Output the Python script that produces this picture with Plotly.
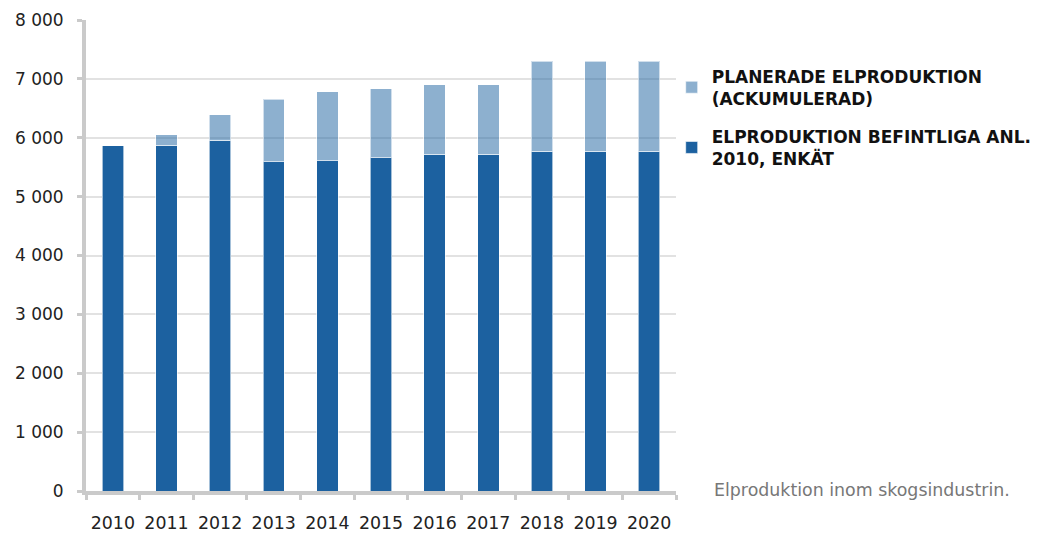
import plotly.graph_objects as go

years = ["2010", "2011", "2012", "2013", "2014", "2015", "2016", "2017", "2018", "2019", "2020"]
existing = [5860, 5870, 5960, 5590, 5610, 5660, 5720, 5720, 5770, 5770, 5770]
planned = [0, 180, 430, 1060, 1170, 1170, 1180, 1180, 1530, 1530, 1530]
y_ticks = [0, 1000, 2000, 3000, 4000, 5000, 6000, 7000, 8000]

name_existing = "ELPRODUKTION BEFINTLIGA ANL.<br>2010, ENKÄT"
name_planned = "PLANERADE ELPRODUKTION<br>(ACKUMULERAD)"
caption = "Elproduktion inom skogsindustrin."

FONT = "DejaVu Sans, Arial, sans-serif"

fig = go.Figure()
fig.add_trace(go.Bar(
    x=years, y=existing, name=name_existing,
    marker=dict(color="#1c61a0", line=dict(color="rgba(255,255,255,0.6)", width=1)),
    legendgroup="a", legendrank=2,
))
fig.add_trace(go.Bar(
    x=years, y=planned, name=name_planned,
    marker=dict(color="rgba(28,97,160,0.5)", line=dict(color="rgba(255,255,255,0.6)", width=1)),
    legendgroup="b", legendrank=1,
))

fig.update_layout(
    barmode="stack",
    bargap=0.6,
    width=1032, height=525,
    margin=dict(l=78, r=364, t=12, b=42, autoexpand=False),
    paper_bgcolor="white", plot_bgcolor="white",
    separators=", ",
    font=dict(family=FONT, color="#222222"),
    showlegend=True,
    legend=dict(
        x=0.9927, y=0.918, xanchor="left", yanchor="top",
        traceorder="grouped", tracegroupgap=13,
        font=dict(family=FONT, size=17, color="#111111", weight="bold"),
        itemwidth=30, bgcolor="rgba(0,0,0,0)",
    ),
    xaxis=dict(
        type="category", showgrid=False,
        showline=True, linecolor="#cacaca", linewidth=4,
        ticks="outside", tickson="boundaries", ticklen=5, tickwidth=3, tickcolor="#cacaca",
        tickfont=dict(family=FONT, size=17.4, color="#222222"),
        tickangle=0,
        ticklabelstandoff=13, automargin=False,
    ),
    yaxis=dict(
        range=[0, 8000], tickvals=y_ticks, tickformat=",d",
        showgrid=True, gridcolor="#e2e2e2", gridwidth=2,
        showline=True, linecolor="#cacaca", linewidth=4,
        ticks="outside", ticklen=5, tickwidth=3, tickcolor="#cacaca",
        tickfont=dict(family=FONT, size=17, color="#222222"),
        ticklabelstandoff=10, zeroline=False, automargin=False,
    ),
    annotations=[dict(
        text=caption, xref="paper", yref="paper",
        x=1.061, y=0.003, xanchor="left", yanchor="middle",
        showarrow=False, font=dict(family=FONT, size=17.4, color="#777777"),
    )],
)

fig.write_html("out.html")
